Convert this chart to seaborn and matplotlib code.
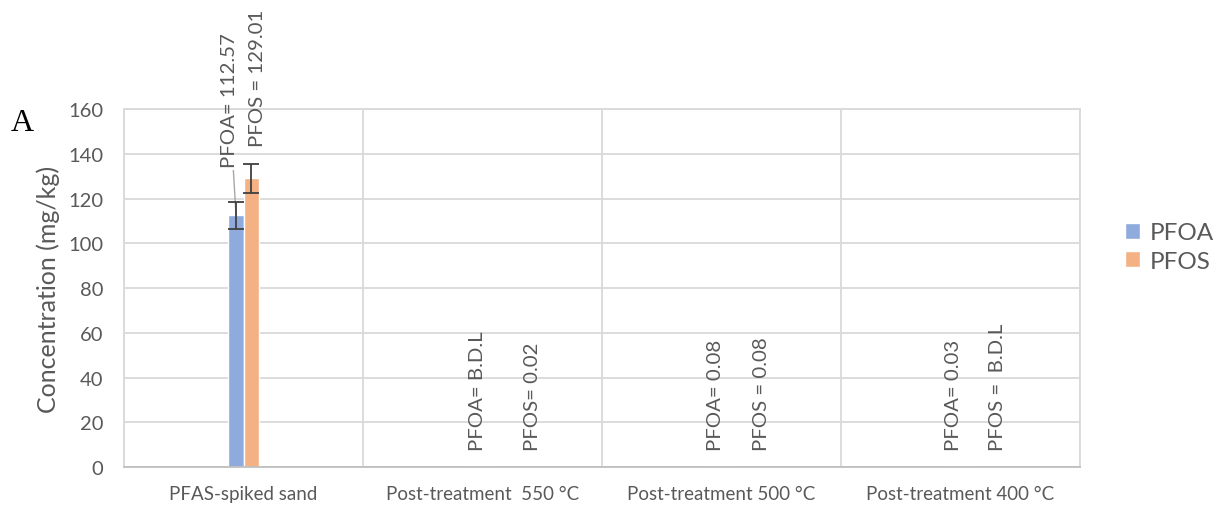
import numpy as np
import pandas as pd
import matplotlib
matplotlib.use("Agg")
import matplotlib.pyplot as plt
import seaborn as sns

# Measured concentrations (mg/kg); B.D.L entries are stored as 0
samples = ["PFAS-spiked sand", "Post-treatment  550 °C",
           "Post-treatment 500 °C", "Post-treatment 400 °C"]
pfoa = [112.57, 0.0, 0.08, 0.03]
pfos = [129.01, 0.02, 0.08, 0.0]
pfoa_err = [6.0, 0.0, 0.0, 0.0]
pfos_err = [6.4, 0.0, 0.0, 0.0]
pfoa_labels = ["PFOA= 112.57", "PFOA= B.D.L", "PFOA= 0.08", "PFOA= 0.03"]
pfos_labels = ["PFOS = 129.01", "PFOS= 0.02", "PFOS = 0.08", "PFOS =  B.D.L"]
yticks = [0, 20, 40, 60, 80, 100, 120, 140, 160]

df = pd.DataFrame({
    "sample": samples * 2,
    "compound": ["PFOA"] * 4 + ["PFOS"] * 4,
    "conc": pfoa + pfos,
})

sns.set_style("white")
plt.rcParams["font.family"] = ["Lato", "DejaVu Sans"]

txt = "#595959"
grid = "#d9d9d9"
palette = {"PFOA": "#8faadc", "PFOS": "#f4b183"}

fig = plt.figure(figsize=(12.21, 5.06), dpi=100)
ax = fig.add_axes([0.1016, 0.0751, 0.7829, 0.7075])

sns.barplot(data=df, x="sample", y="conc", hue="compound", order=samples,
            hue_order=["PFOA", "PFOS"], palette=palette, width=0.126,
            errorbar=None, saturation=1, ax=ax, legend=True)

# error bars at the bar centres
bars = ax.patches[:8]
centres = [b.get_x() + b.get_width() / 2 for b in bars]
heights = [b.get_height() for b in bars]
errs = pfoa_err + pfos_err
for cx, h, e in zip(centres, heights, errs):
    if e > 0:
        ax.errorbar(cx, h, yerr=e, fmt="none", ecolor="#404040",
                    elinewidth=1.3, capsize=6, capthick=1.3, zorder=5)

ax.set_xlim(-0.5, 3.5)
ax.set_ylim(0, 160)
ax.set_yticks(yticks)
ax.set_yticklabels([str(v) for v in yticks], fontsize=14.5, color=txt)
ax.tick_params(axis="x", labelsize=13.5, colors=txt, length=0, pad=13)
ax.tick_params(axis="y", length=0, pad=15)
ax.set_xticks(range(len(samples)))
ax.set_xticklabels(samples)
ax.set_xlabel("")
ax.set_ylabel("Concentration (mg/kg)", fontsize=18, color=txt, labelpad=6)

# horizontal gridlines plus vertical dividers between sample groups
ax.set_xticks(np.arange(-0.5, 3.6, 1.0), minor=True)
ax.tick_params(axis="x", which="minor", length=0)
ax.grid(axis="y", which="major", color=grid, linewidth=1.3)
ax.grid(axis="x", which="minor", color=grid, linewidth=1.3)
ax.set_axisbelow(True)
for s in ["left", "right", "top"]:
    ax.spines[s].set_color(grid)
    ax.spines[s].set_linewidth(1.3)
ax.spines["bottom"].set_color("#bfbfbf")
ax.spines["bottom"].set_linewidth(1.3)

# rotated value labels
lab_fs = 14.7
ax.annotate(pfoa_labels[0], xy=(centres[0], heights[0]),
            xytext=(-0.06, 134), textcoords="data", rotation=90,
            ha="center", va="bottom", fontsize=lab_fs, color=txt,
            arrowprops=dict(arrowstyle="-", color="#a6a6a6", lw=1.0,
                            shrinkA=0, shrinkB=0))
ax.text(0.0565, 143.5, pfos_labels[0], rotation=90, ha="center",
        va="bottom", fontsize=lab_fs, color=txt)

oa_off = [-0.019, -0.027, -0.031]
os_off = [0.211, 0.169, 0.153]
for i in range(1, 4):
    ax.text(i + oa_off[i - 1], 7.6, pfoa_labels[i], rotation=90,
            ha="center", va="bottom", fontsize=lab_fs, color=txt)
    ax.text(i + os_off[i - 1], 7.6, pfos_labels[i], rotation=90,
            ha="center", va="bottom", fontsize=lab_fs, color=txt)

# legend to the right of the plot
handles, labels = ax.get_legend_handles_labels()
ax.get_legend().remove()
fig.legend(handles, labels, loc="center left", bbox_to_anchor=(0.921, 0.51),
           frameon=False, fontsize=17.5, labelcolor=txt, handlelength=0.65,
           handleheight=0.65, handletextpad=0.4, labelspacing=0.3,
           borderaxespad=0, borderpad=0)

fig.text(0.009, 0.741, "A", fontsize=23, color="black",
         family="Liberation Serif", ha="left", va="baseline")

fig.savefig("out.png", dpi=100)
